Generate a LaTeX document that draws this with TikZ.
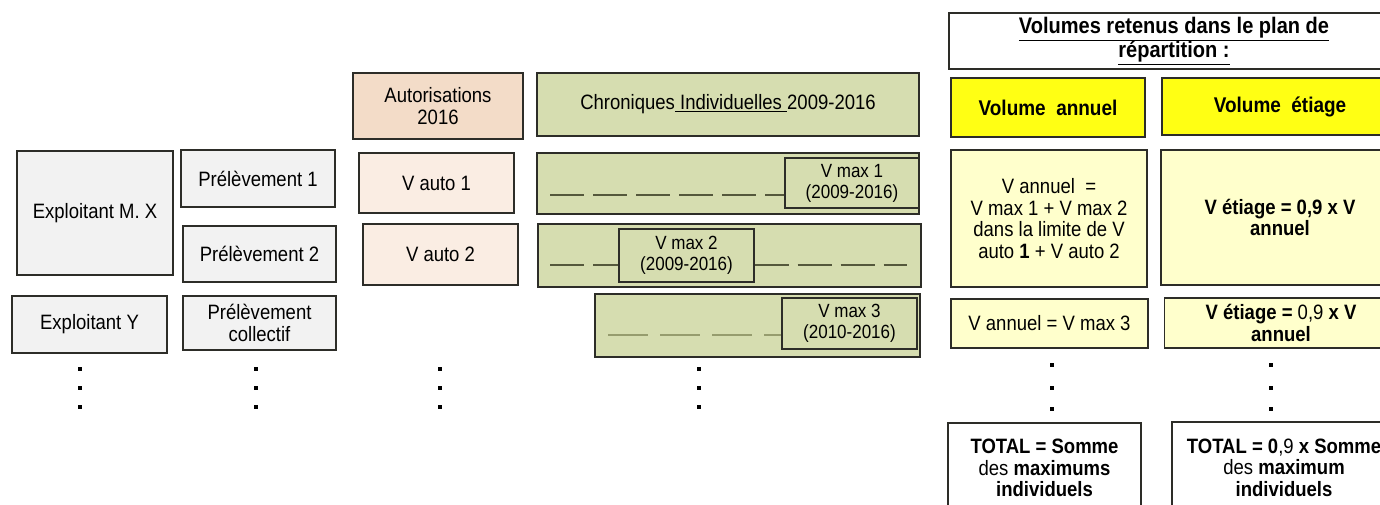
\documentclass[tikz,border=0pt]{standalone}
\usepackage{fontspec}
\setmainfont[FakeStretch=0.89]{Liberation Sans}
\definecolor{grayfill}{RGB}{242,242,242}
\definecolor{peachhead}{RGB}{243,220,200}
\definecolor{peachlight}{RGB}{250,237,227}
\definecolor{olive}{RGB}{214,221,176}
\definecolor{yellowhead}{RGB}{255,255,20}
\definecolor{yellowlight}{RGB}{255,255,204}
\definecolor{edge}{RGB}{45,45,40}
\definecolor{dashdark}{RGB}{85,88,60}
\definecolor{dashlight}{RGB}{150,156,110}
\begin{document}
\begin{tikzpicture}[x=1pt,y=-1pt,
  box/.style={draw=edge, line width=1.5pt, inner sep=2pt, align=center,
    font=\fontsize{20.8}{21.5}\selectfont, text=black},
  gbox/.style={box, fill=grayfill},
  pbox/.style={box, fill=peachlight},
  obox/.style={box, fill=olive},
  ibox/.style={box, fill=olive, line width=1.3pt, font=\fontsize{19.1}{21}\selectfont},
  ybox/.style={box, fill=yellowhead, font=\bfseries\fontsize{21.3}{22}\selectfont},
  lybox/.style={box, fill=yellowlight},
  wbox/.style={box, fill=white},
  dot/.style={fill=black, inner sep=0pt, minimum size=4.5pt, draw=none},
  chron/.style={line width=1.6pt, dash pattern=on 34pt off 9pt}
]
\useasboundingbox (0,0) rectangle (1380,504);
\clip (0,0) rectangle (1380,504);
\fill[white] (0,0) rectangle (1380,504);

% left columns
\node[gbox, minimum width=156pt, minimum height=124pt] (expX) at (95,213) {Exploitant M. X};
\node[gbox, minimum width=154pt, minimum height=57pt] (prel1) at (258,178.5) {Prélèvement 1};
\node[gbox, minimum width=153pt, minimum height=56pt] (prel2) at (259.5,254) {Prélèvement 2};
\node[gbox, minimum width=155pt, minimum height=57pt] (expY) at (89.5,324.5) {Exploitant Y};
\node[gbox, minimum width=153pt, minimum height=54pt] (prelC) at (259.5,323) {Prélèvement\\collectif};

% autorisations
\node[box, fill=peachhead, minimum width=170pt, minimum height=66pt] (auth) at (438,106) {Autorisations\\2016};
\node[pbox, minimum width=155pt, minimum height=60pt] (vauto1) at (436.5,183) {V auto 1};
\node[pbox, minimum width=155pt, minimum height=61pt] (vauto2) at (440.5,254.5) {V auto 2};

% chroniques
\node[obox, minimum width=382pt, minimum height=63pt] (chron) at (728,104.5) {Chroniques\underline{ Individuelles }2009-2016};
\node[obox, minimum width=382pt, minimum height=61pt] (row1) at (728,183.5) {};
\node[obox, minimum width=383pt, minimum height=63pt] (row2) at (729.5,255.5) {};
\node[obox, minimum width=325pt, minimum height=63pt] (row3) at (757.5,325.5) {};

\coordinate (d1s) at (550,195);
\coordinate (d2s) at (550,265);
\coordinate (d2e) at (907,265);
\coordinate (d3s) at (608,335);

\node[ibox, minimum width=134pt, minimum height=50pt] (vmax1) at (852,183) {V max 1\\(2009-2016)};
\node[ibox, minimum width=135pt, minimum height=53pt] (vmax2) at (686.5,255.5) {V max 2\\(2009-2016)};
\node[ibox, minimum width=135pt, minimum height=51pt] (vmax3) at (849.5,323.5) {V max 3\\(2010-2016)};

\draw[chron, draw=dashdark] (d1s) -- (d1s -| vmax1.west);
\draw[chron, draw=dashdark] (d2s) -- (d2s -| vmax2.west);
\draw[chron, draw=dashdark] (d2s -| vmax2.east) -- (d2e);
\draw[chron, draw=dashlight, dash pattern=on 40pt off 12pt] (d3s) -- (d3s -| vmax3.west);

% right part
\node[wbox, minimum width=450pt, minimum height=56pt, font=\bfseries\fontsize{22.5}{23}\selectfont] (title) at (1174,41)
  {\underline{Volumes retenus dans le plan de}\\\underline{répartition :}};
\node[ybox, minimum width=194pt, minimum height=59pt] (volA) at (1048,107.5) {Volume~ annuel};
\node[ybox, minimum width=236pt, minimum height=57pt] (volE) at (1280,106.5) {Volume~ étiage};
\node[lybox, minimum width=196pt, minimum height=137pt] (vA1) at (1049,218.5)
  {V annuel~ =\\V max 1 + V max 2\\dans la limite de V\\auto \textbf{1} + V auto 2};
\node[lybox, minimum width=238pt, minimum height=135pt] (vE1) at (1280,217.5)
  {\textbf{V étiage = 0,9 x V}\\\textbf{annuel}};
\node[lybox, minimum width=197pt, minimum height=49pt] (vA2) at (1049.5,323.5) {V annuel = V max 3};
\node[lybox, minimum width=233pt, minimum height=50pt] (vE2) at (1281,323)
  {\textbf{V étiage =} 0,9 \textbf{x V}\\\textbf{annuel}};
\node[wbox, minimum width=193pt, minimum height=90pt] (totA) at (1044.5,468)
  {\textbf{TOTAL = Somme}\\des \textbf{maximums}\\\textbf{individuels}};
\node[wbox, minimum width=224pt, minimum height=91pt] (totE) at (1284,467.5)
  {\textbf{TOTAL = 0},9 \textbf{x Somme}\\des \textbf{maximum}\\\textbf{individuels}};

% vertical dots
\foreach \cx/\nm in {80/a,256/b,440/c,699/d}{
  \node[dot] (dot\nm1) at (\cx,369) {};
  \node[dot] (dot\nm2) at (\cx,388) {};
  \node[dot] (dot\nm3) at (\cx,407) {};
}
\foreach \cx/\nm in {1052/e,1271/f}{
  \node[dot] (dot\nm1) at (\cx,365) {};
  \node[dot] (dot\nm2) at (\cx,388) {};
  \node[dot] (dot\nm3) at (\cx,409) {};
}
\end{tikzpicture}
\end{document}
